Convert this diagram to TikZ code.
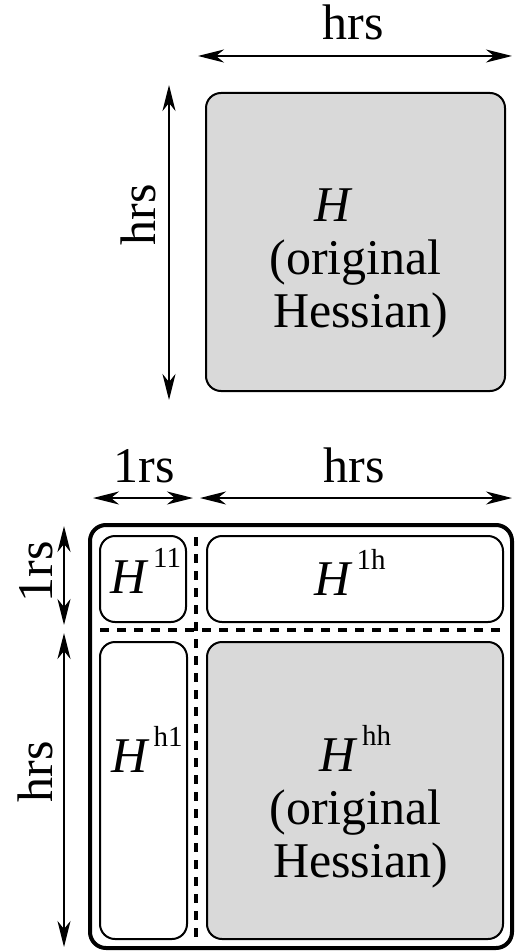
\documentclass[tikz,border=0pt]{standalone}
\usepackage{fontspec}
\setmainfont{Liberation Serif}
\usetikzlibrary{arrows.meta}
\definecolor{hessgray}{RGB}{217,217,217}
\newcommand{\Hsup}[1]{\textit{H}\hspace{4pt}\raisebox{26pt}{\fontsize{29}{29}\selectfont #1}}

\begin{document}
\begin{tikzpicture}[x=1pt, y=-1pt,
tip/.tip={Stealth[length=26pt, width=13pt, inset=8pt]},
dim/.style={tip-tip, line width=2pt},
block/.style={draw, line width=2pt, rounded corners=15pt},
hess/.style={block, fill=hessgray},
frame/.style={draw, line width=4pt, rounded corners=16pt},
split/.style={line width=3.5pt, dash pattern=on 9pt off 8pt},
lbl/.style={font=\fontsize{50}{53}\selectfont, inner sep=0, anchor=base, align=center},
]
\useasboundingbox (0,0) rectangle (516,952);

%%%%%%%%%%%%%%%%%%%%%%%% ORIGINAL HESSIAN %%%%%%%%%%%%%%%%%%%%%%%%
\coordinate (TopW) at (198,56);
\coordinate (TopE) at (512,56);
\coordinate (TopN) at (169,85);
\coordinate (TopS) at (169,400);
\draw[hess] (206,93) rectangle (505,391);
\draw[dim] (TopW) -- (TopE);
\draw[dim] (TopN) -- (TopS);
\node[lbl] (TopHrs) at (353,40) {hrs};
\node[lbl, rotate=90] (TopHrsV) at (155,215) {hrs};
\node[lbl] (TopH) at (355.5,327) {\textit{H}\hspace*{44pt}\\(original\hspace*{16pt}\\\hspace*{10pt}Hessian)}; % base = last line

%%%%%%%%%%%%%%%%%%%%%%%% EXTENDED HESSIAN %%%%%%%%%%%%%%%%%%%%%%%%
\coordinate (OneW) at (93,498);
\coordinate (OneE) at (193,498);
\coordinate (HW) at (200,498);
\coordinate (HE) at (512,498);
\coordinate (OneN) at (64,526);
\coordinate (OneS) at (64,625);
\coordinate (HN) at (64,633);
\coordinate (HS) at (64,947);
\draw[frame] (90,525) rectangle (512,948);
\draw[block] (100,536) rectangle (186,622); % H11
\draw[block] (207,536) rectangle (503,622); % H1h
\draw[block] (100,642) rectangle (187,939); % Hh1
\draw[hess] (207,642) rectangle (503,939); % Hhh
\draw[split] (100,630) -- (505,630);
\draw[split] (196,537) -- (196,940);
\draw[dim] (OneW) -- (OneE);
\draw[dim] (HW) -- (HE);
\draw[dim] (OneN) -- (OneS);
\draw[dim] (HN) -- (HS);
\node[lbl] (OneRs) at (144,482) {1rs};
\node[lbl] (HRs) at (354,482) {hrs};
\node[lbl, rotate=90] (OneRsV) at (52,572) {1rs};
\node[lbl, rotate=90] (HRsV) at (52,772) {hrs};
\node[lbl] (H11) at (146,593) {\Hsup{11}};
\node[lbl] (H1h) at (350,595) {\Hsup{1h}};
\node[lbl] (Hh1) at (147,772) {\Hsup{h1}};
\node[lbl] (Hhh) at (355.5,877) {\Hsup{hh}\\(original\hspace*{16pt}\\\hspace*{10pt}Hessian)};
\end{tikzpicture}
\end{document}
